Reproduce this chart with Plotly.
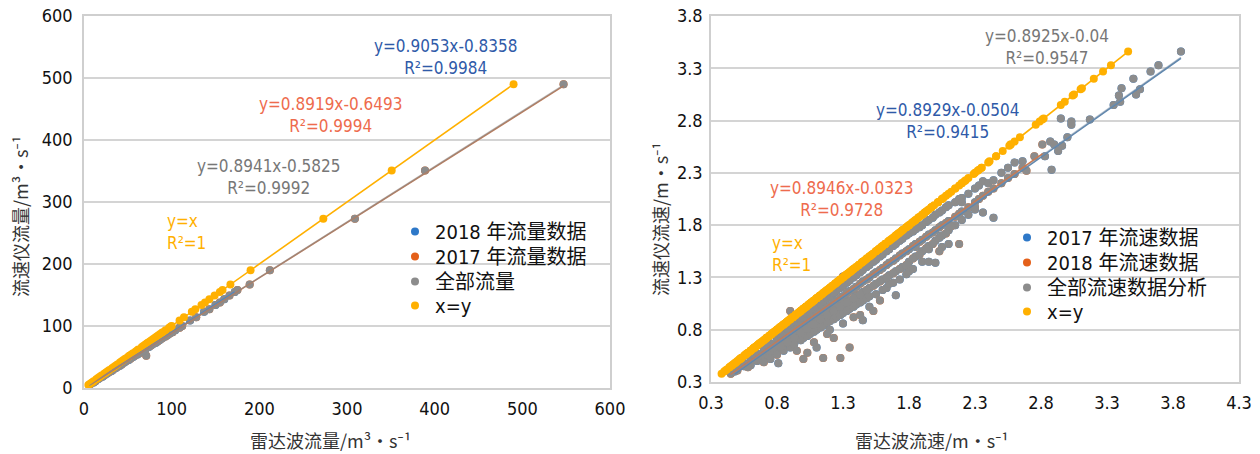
import plotly.graph_objects as go

# ---------------- Left chart: flow (radar, meter) ----------------
flow_2018 = [(172, 155), (160, 143), (150, 134), (137, 123), (121, 109), (110, 99), (104, 93), (99, 89),
             (95, 85), (90, 81), (86, 77), (82, 73), (78, 70), (74, 66), (70, 62), (66, 59), (61, 54),
             (56, 50), (51, 45), (46, 41), (41, 36), (36, 32), (31, 27), (26, 23), (21, 18), (16, 14),
             (11, 9), (6, 5)]
flow_2017 = [(547, 490), (389, 351), (309, 273), (212, 190), (189, 167), (175, 158), (166, 149), (155, 138),
             (143, 127), (128, 114), (112, 100), (109, 97), (101, 90), (97, 87), (93, 83), (88, 79), (84, 75),
             (80, 72), (76, 68), (71, 52), (68, 61), (63, 56), (58, 52), (53, 47), (48, 43), (43, 38),
             (38, 34), (33, 29), (28, 25), (23, 20), (18, 16), (13, 11), (8, 7)]
flow_names = ["2018 年流量数据", "2017 年流量数据", "全部流量", "x=y"]
flow_slopes = [0.9053, 0.8919, 0.8941]
flow_intercepts = [-0.8358, -0.6493, -0.5825]
flow_r2 = ["0.9984", "0.9994", "0.9992"]

# ---------------- Right chart: velocity (radar, meter) ----------------
vel_2017 = [(0.48, 0.40), (0.48, 0.42), (0.50, 0.44), (0.55, 0.45), (0.55, 0.48), (0.60, 0.49), (0.60, 0.52),
            (0.60, 0.46), (0.65, 0.53), (0.65, 0.57), (0.65, 0.50), (0.70, 0.58), (0.70, 0.62), (0.70, 0.53),
            (0.75, 0.62), (0.75, 0.67), (0.75, 0.57), (0.75, 0.52), (0.80, 0.67), (0.80, 0.72), (0.80, 0.62),
            (0.81, 0.48), (0.83, 0.75), (0.85, 0.71), (0.85, 0.77), (0.85, 0.66), (0.85, 0.60), (0.88, 0.80),
            (0.90, 0.76), (0.90, 0.82), (0.90, 0.70), (0.90, 0.63), (0.93, 0.85), (0.93, 0.66), (0.95, 0.81),
            (0.95, 0.87), (0.95, 0.74), (0.98, 0.90), (0.98, 0.70), (1.00, 0.85), (1.00, 0.92), (1.00, 0.78),
            (1.00, 0.72), (1.03, 0.95), (1.03, 0.74), (1.05, 0.90), (1.05, 0.97), (1.05, 0.83), (1.05, 0.76),
            (1.08, 1.00), (1.08, 0.78), (1.10, 0.94), (1.10, 1.02), (1.10, 0.87), (1.10, 0.80), (1.10, 0.63),
            (1.13, 1.05), (1.13, 0.82), (1.15, 0.99), (1.15, 1.07), (1.15, 0.92), (1.15, 0.84), (1.18, 1.10),
            (1.18, 0.87), (1.20, 1.03), (1.20, 1.12), (1.20, 0.96), (1.20, 0.88), (1.20, 0.80), (1.23, 1.15),
            (1.23, 0.90), (1.25, 1.08), (1.25, 1.17), (1.25, 1.00), (1.25, 0.92), (1.28, 1.20), (1.28, 0.94),
            (1.30, 1.12), (1.30, 1.22), (1.30, 1.04), (1.30, 0.96), (1.30, 0.86), (1.33, 1.25), (1.33, 0.98),
            (1.35, 1.17), (1.35, 1.27), (1.35, 1.08), (1.35, 1.00), (1.38, 1.30), (1.38, 1.02), (1.40, 1.21),
            (1.40, 1.32), (1.40, 1.12), (1.40, 1.04), (1.43, 1.35), (1.43, 1.06), (1.45, 1.26), (1.45, 1.37),
            (1.45, 1.16), (1.45, 1.08), (1.45, 0.89), (1.48, 1.40), (1.48, 1.10), (1.50, 1.30), (1.50, 1.42),
            (1.50, 1.20), (1.50, 1.12), (1.50, 1.02), (1.53, 1.45), (1.55, 1.35), (1.55, 1.47), (1.55, 1.24),
            (1.55, 1.14), (1.58, 1.50), (1.60, 1.39), (1.60, 1.52), (1.60, 1.28), (1.60, 1.18), (1.63, 1.55),
            (1.63, 1.20), (1.65, 1.44), (1.65, 1.57), (1.65, 1.32), (1.65, 1.24), (1.68, 1.60), (1.68, 1.25),
            (1.70, 1.48), (1.70, 1.62), (1.70, 1.36), (1.70, 1.13), (1.73, 1.65), (1.73, 1.28), (1.75, 1.53),
            (1.75, 1.67), (1.75, 1.40), (1.78, 1.70), (1.78, 1.33), (1.80, 1.57), (1.80, 1.72), (1.80, 1.45),
            (1.80, 1.36), (1.83, 1.74), (1.83, 1.38), (1.85, 1.62), (1.85, 1.76), (1.85, 1.50), (1.85, 1.59),
            (1.88, 1.78), (1.90, 1.66), (1.90, 1.80), (1.90, 1.55), (1.90, 1.45), (1.93, 1.83), (1.95, 1.71),
            (1.95, 1.85), (1.95, 1.60), (1.95, 1.57), (1.95, 1.45), (1.98, 1.87), (2.00, 1.75), (2.00, 1.90),
            (2.00, 1.65), (2.00, 1.44), (2.03, 1.92), (2.03, 1.68), (2.05, 1.80), (2.05, 1.94), (2.05, 1.70),
            (2.05, 1.59), (2.08, 1.97), (2.10, 1.84), (2.10, 1.99), (2.10, 1.75), (2.10, 1.62), (2.15, 2.02),
            (2.15, 1.80), (2.18, 2.05), (2.20, 1.93), (2.20, 2.06), (2.20, 1.85), (2.20, 2.02), (2.25, 2.10),
            (2.25, 1.90), (2.30, 2.02), (2.30, 2.15), (2.30, 1.95), (2.33, 2.18), (2.36, 2.22), (2.36, 1.92),
            (2.40, 2.20), (2.44, 2.23), (2.44, 1.87), (2.50, 2.30), (2.55, 2.35), (2.60, 2.40), (2.66, 2.41),
            (2.83, 2.46), (2.87, 2.60), (2.88, 2.33), (2.90, 2.57), (2.93, 2.51), (2.95, 2.82), (2.96, 2.56),
            (3.00, 2.64), (3.03, 2.79), (3.03, 2.76), (3.17, 2.81), (3.35, 2.95), (3.39, 3.04), (3.40, 2.98),
            (3.41, 3.11), (3.50, 3.20), (3.52, 3.05), (3.55, 3.10), (3.63, 3.27), (3.69, 3.33), (3.86, 3.46)]
vel_2018 = [(0.45, 0.38), (0.50, 0.41), (0.53, 0.46), (0.58, 0.47), (0.58, 0.44), (0.63, 0.51), (0.63, 0.55),
            (0.68, 0.56), (0.68, 0.52), (0.70, 0.49), (0.73, 0.60), (0.73, 0.65), (0.78, 0.65), (0.78, 0.60),
            (0.80, 0.56), (0.83, 0.69), (0.83, 0.64), (0.88, 0.74), (0.88, 0.68), (0.90, 0.98), (0.93, 0.79),
            (0.93, 0.72), (0.95, 0.60), (0.98, 0.83), (0.98, 0.77), (1.00, 0.52), (1.03, 0.88), (1.03, 0.81),
            (1.03, 0.58), (1.08, 0.92), (1.08, 0.85), (1.08, 0.68), (1.13, 0.97), (1.13, 0.90), (1.13, 1.12),
            (1.15, 0.53), (1.18, 1.01), (1.18, 0.94), (1.18, 0.76), (1.23, 1.06), (1.23, 0.98), (1.23, 0.72),
            (1.28, 1.10), (1.28, 1.02), (1.28, 0.53), (1.30, 1.31), (1.33, 1.15), (1.33, 1.06), (1.35, 0.63),
            (1.38, 1.19), (1.38, 1.10), (1.38, 0.92), (1.43, 1.24), (1.43, 1.14), (1.43, 0.94), (1.48, 1.28),
            (1.48, 1.18), (1.53, 1.33), (1.53, 1.22), (1.53, 0.98), (1.58, 1.37), (1.58, 1.26), (1.58, 1.08),
            (1.63, 1.42), (1.63, 1.30), (1.68, 1.46), (1.68, 1.34), (1.73, 1.51), (1.73, 1.38), (1.78, 1.55),
            (1.78, 1.42), (1.83, 1.60), (1.83, 1.48), (1.88, 1.64), (1.88, 1.52), (1.93, 1.69), (1.93, 1.58),
            (1.98, 1.73), (1.98, 1.62), (2.03, 1.78), (2.03, 1.55), (2.08, 1.82), (2.08, 1.72), (2.12, 1.79),
            (2.15, 1.88), (2.18, 1.91), (2.18, 1.62), (2.25, 1.97), (2.30, 1.97), (2.33, 2.05), (2.36, 2.08),
            (2.40, 2.12), (2.44, 2.15), (2.50, 2.20), (2.55, 2.25), (2.60, 2.29), (2.66, 2.35), (2.69, 2.32),
            (2.75, 2.46), (2.81, 2.57)]
vel_names = ["2017 年流速数据", "2018 年流速数据", "全部流速数据分析", "x=y"]
vel_slopes = [0.8929, 0.8946, 0.8925]
vel_intercepts = [-0.0504, -0.0323, -0.04]
vel_r2 = ["0.9415", "0.9728", "0.9547"]

flow_ticks = [0, 100, 200, 300, 400, 500, 600]
vel_ticks = [0.3, 0.8, 1.3, 1.8, 2.3, 2.8, 3.3, 3.8, 4.3]

# ---------------- styles ----------------
C_BLUE = "#2E78C8"
C_ORANGE = "#E4601A"
C_GRAY = "#8C8C8C"
C_GOLD = "#FFB000"
T_BLUE = "#2F5AA8"
T_ORANGE = "#EE6B4D"
T_GRAY = "#777777"
NUM_FONT = "DejaVu Sans Condensed, Roboto, sans-serif"
LEG_FONT = "DejaVu Sans Condensed, Noto Sans CJK SC, sans-serif"
CJK_FONT = "Noto Sans CJK SC, Noto Sans, sans-serif"
MS = 8

# legend entry placement (pixels): left edge, entry centre rows
LEFT_LEG_X, LEFT_LEG_ROWS = 395, [232, 257, 282, 306]
RIGHT_LEG_X, RIGHT_LEG_ROWS = 1007, [238, 263, 288, 312]


def unzip(pairs):
    return [p[0] for p in pairs], [p[1] for p in pairs]


def trend(xs, k, b):
    lo, hi = min(xs), max(xs)
    return [lo, hi], [k * lo + b, k * hi + b]


fig = go.Figure()
legend_layout = {}


def add_panel(sets, names, colors, slopes, intercepts, xa, ya, leg_ids, leg_x, leg_rows, line_colors, line_opac):
    all_pairs = sets[0] + sets[1]
    groups = [sets[0], sets[1], all_pairs]
    _, all_y = unzip(all_pairs)
    series = [unzip(g) for g in groups] + [(all_y, all_y)]
    for (xs, ys), name, col, lid, row in zip(series, names, colors, leg_ids, leg_rows):
        fig.add_trace(go.Scatter(x=xs, y=ys, mode="markers", name=name, xaxis=xa, yaxis=ya, legend=lid,
                                 marker=dict(color=col, size=MS, line=dict(width=0))))
        legend_layout[lid] = dict(x=leg_x / 1260, y=1 - (row - 20) / 454, xanchor="left", yanchor="top",
                                  bgcolor="rgba(0,0,0,0)", itemwidth=30, itemclick=False,
                                  font=dict(family=LEG_FONT, size=20, color="#111111"))
    # trend lines
    for pairs, k, b, lc, op in zip(groups, slopes, intercepts, line_colors, line_opac):
        xs, _ = unzip(pairs)
        tx, ty = trend(xs, k, b)
        fig.add_trace(go.Scatter(x=tx, y=ty, mode="lines", showlegend=False, xaxis=xa, yaxis=ya,
                                 opacity=op, line=dict(color=lc, width=1.6), hoverinfo="skip"))
    tx, ty = trend(all_y, 1.0, 0.0)
    fig.add_trace(go.Scatter(x=tx, y=ty, mode="lines", showlegend=False, xaxis=xa, yaxis=ya,
                             line=dict(color=colors[3], width=1.6), hoverinfo="skip"))


add_panel([flow_2018, flow_2017], flow_names, [C_BLUE, C_ORANGE, C_GRAY, C_GOLD],
          flow_slopes, flow_intercepts, "x", "y", ["legend", "legend2", "legend3", "legend4"],
          LEFT_LEG_X, LEFT_LEG_ROWS, ["#4A86C8", "#C07A55", "#8A8A8A"], [1.0, 1.0, 0.55])
add_panel([vel_2017, vel_2018], vel_names, [C_BLUE, C_ORANGE, C_GRAY, C_GOLD],
          vel_slopes, vel_intercepts, "x2", "y2", ["legend5", "legend6", "legend7", "legend8"],
          RIGHT_LEG_X, RIGHT_LEG_ROWS, ["#5B86B0", "#D0784A", "#7A90A8"], [1.0, 1.0, 0.5])

axis_common = dict(showgrid=True, gridcolor="#D4D4D4", gridwidth=1.5, showline=True, linecolor="#CFCFCF",
                   linewidth=1.5, mirror=True, zeroline=False, ticks="", automargin=False,
                   tickfont=dict(family=NUM_FONT, size=18, color="#111111"))

fig.update_layout(
    width=1260, height=454, margin=dict(l=0, r=0, t=0, b=0),
    paper_bgcolor="white", plot_bgcolor="white", showlegend=True,
    xaxis=dict(axis_common, domain=[84 / 1260, 610 / 1260], range=[0, 600], tickvals=flow_ticks,
               showgrid=False, anchor="y", ticklabelstandoff=4),
    yaxis=dict(axis_common, domain=[1 - 388 / 454, 1 - 16 / 454], range=[0, 600], tickvals=flow_ticks,
               anchor="x", ticklabelstandoff=6),
    xaxis2=dict(axis_common, domain=[711 / 1260, 1239 / 1260], range=[0.3, 4.3], tickvals=vel_ticks,
                tickformat=".1f", showgrid=False, anchor="y2", ticklabelstandoff=4),
    yaxis2=dict(axis_common, domain=[1 - 382 / 454, 1 - 16 / 454], range=[0.3, 3.8], tickvals=vel_ticks[:8],
                tickformat=".1f", anchor="x2", ticklabelstandoff=3),
    **legend_layout,
)

ann_font = dict(family=NUM_FONT, size=17)


def eq_text(k, b, r2):
    sign = "-" if b < 0 else "+"
    return f"y={k:.4f}x{sign}{abs(b):g}<br>R²={r2}"


# Left panel equation labels
left_pos = [(412, 534, T_BLUE), (281, 440, T_ORANGE), (210, 340, T_GRAY)]
for (ax_, ay_, col), k, b, r2 in zip(left_pos, flow_slopes, flow_intercepts, flow_r2):
    fig.add_annotation(x=ax_, y=ay_, xref="x", yref="y", text=eq_text(k, b, r2), showarrow=False,
                       xanchor="center", yanchor="middle", font=dict(ann_font, color=col), align="center")
fig.add_annotation(x=92, y=252, xref="x", yref="y", text="y=x<br>R²=1", showarrow=False, xanchor="left",
                   yanchor="middle", align="left", font=dict(ann_font, color=C_GOLD))

# Right panel equation labels
right_pos = [(2.095, 2.796, T_BLUE), (1.292, 2.05, T_ORANGE), (2.845, 3.50, T_GRAY)]
for (ax_, ay_, col), k, b, r2 in zip(right_pos, vel_slopes, vel_intercepts, vel_r2):
    fig.add_annotation(x=ax_, y=ay_, xref="x2", yref="y2", text=eq_text(k, b, r2), showarrow=False,
                       xanchor="center", yanchor="middle", font=dict(ann_font, color=col), align="center")
fig.add_annotation(x=0.745, y=1.524, xref="x2", yref="y2", text="y=x<br>R²=1", showarrow=False,
                   xanchor="left", yanchor="middle", align="left", font=dict(ann_font, color=C_GOLD))

# Axis titles
title_font = dict(family=CJK_FONT, size=18, color="#333333")
for tx, ty, txt, ang in [(330, 440, "雷达波流量/m³·s⁻¹", 0), (932, 440, "雷达波流速/m·s⁻¹", 0),
                         (20, 217, "流速仪流量/m³·s⁻¹", -90), (660, 219, "流速仪流速/m·s⁻¹", -90)]:
    fig.add_annotation(x=tx / 1260, y=1 - ty / 454, xref="paper", yref="paper", text=txt, showarrow=False,
                       xanchor="center", yanchor="middle", textangle=ang, font=title_font)

fig.write_html("out.html", config={"displayModeBar": False},
               post_script="document.body.style.margin='0px';")
